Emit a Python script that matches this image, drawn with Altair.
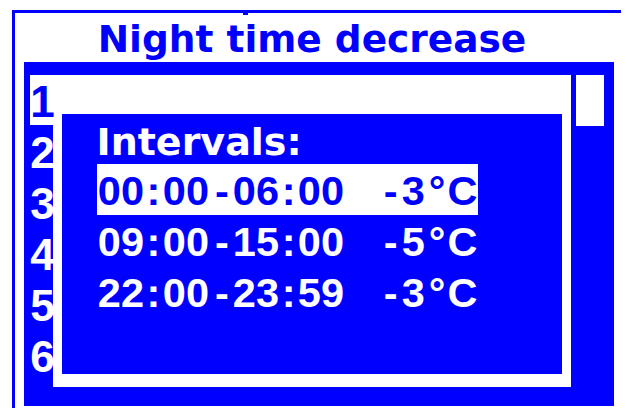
import altair as alt
import pandas as pd

# ---- content (data) ----
TITLE = "Night time decrease"
HEADING = "Intervals:"
START_TIMES = ["00:00", "09:00", "22:00"]
END_TIMES = ["06:00", "15:00", "23:59"]
DECREASES = [-3, -5, -3]
ROW_NUMBERS = ["1", "2", "3", "4", "5", "6"]
SELECTED_INTERVAL = 0

# ---- style / layout ----
BLUE = "#0000ff"
WHITE = "#ffffff"
W, H = 613, 400          # drawing area in px (fits the 629x416 page with 8px margins)
OX, OY = 8, 8            # page margin offset
LCD_FONT = "Liberation Sans"
LCD_SIZE = 41.5

xs = alt.Scale(domain=[OX, OX + W], nice=False, zero=False)
ys = alt.Scale(domain=[OY, OY + H], nice=False, zero=False, reverse=True)

ROW_STEP = 51
INTERVAL_X0 = 101.7
INTERVAL_BASE = 205
NUMBER_BASE = 117
HILITE_TOP = 164

boxes = [
    # outer frame
    dict(x=12, x2=627, y=10, y2=13, c=BLUE),
    dict(x=12, x2=15, y=10, y2=416, c=BLUE),
    dict(x=624, x2=627, y=10, y2=416, c=BLUE),
    dict(x=243, x2=248, y=13, y2=15, c=BLUE),
    # list panel
    dict(x=24, x2=614, y=62, y2=406, c=BLUE),
    dict(x=30, x2=571, y=75, y2=125, c=WHITE),
    dict(x=53, x2=571, y=75, y2=387, c=WHITE),
    dict(x=576, x2=604, y=75, y2=126, c=WHITE),
    # dialog
    dict(x=62, x2=562, y=114, y2=374, c=BLUE),
    dict(x=97, x2=478, y=HILITE_TOP + ROW_STEP * SELECTED_INTERVAL,
         y2=HILITE_TOP + ROW_STEP * SELECTED_INTERVAL + 51, c=WHITE),
]
box_df = pd.DataFrame(boxes)

# character cell advance and ink-centre offset of the LCD font (px)
ADV = {":": 18.4, "-": 23.5, " ": 16.9, "°": 24.0, "C": 24.0}
OFF = {":": 5.2, "-": 8.5, " ": 0.0, "°": 8.0, "C": 9.5}


def char_rows(s, x0, base, color):
    rows = []
    x = x0
    for ch in s:
        if ch != " ":
            rows.append(dict(x=x + OFF.get(ch, 7.5), y=base, t=ch, c=color))
        x += ADV.get(ch, 23.3)
    return rows


chars = []
for i, (s, e, d) in enumerate(zip(START_TIMES, END_TIMES, DECREASES)):
    line = f"{s}-{e}  {d}°C"
    col = BLUE if i == SELECTED_INTERVAL else WHITE
    chars += char_rows(line, INTERVAL_X0, INTERVAL_BASE + ROW_STEP * i, col)
chars_df = pd.DataFrame(chars)

nums_df = pd.DataFrame([
    dict(x=42.5, y=NUMBER_BASE + ROW_STEP * i, t=n, c=BLUE if i == 0 else WHITE)
    for i, n in enumerate(ROW_NUMBERS)
])

title_df = pd.DataFrame([dict(x=312, y=52, t=TITLE)])
head_df = pd.DataFrame([dict(x=96.5, y=155, t=HEADING)])

X = alt.X("x:Q", scale=xs, axis=None)
Y = alt.Y("y:Q", scale=ys, axis=None)

rects = alt.Chart(box_df).mark_rect().encode(
    x=X, x2="x2:Q", y=Y, y2="y2:Q",
    color=alt.Color("c:N", scale=None),
)

title = alt.Chart(title_df).mark_text(
    font="DejaVu Sans", fontWeight="bold", fontSize=37.5,
    align="center", baseline="alphabetic", color=BLUE,
).encode(x=X, y=Y, text="t:N")

heading = alt.Chart(head_df).mark_text(
    font="DejaVu Sans", fontWeight="bold", fontSize=38,
    align="left", baseline="alphabetic", color=WHITE,
).encode(x=X, y=Y, text="t:N")

interval_text = alt.Chart(chars_df).mark_text(
    font=LCD_FONT, fontWeight="bold", fontSize=LCD_SIZE,
    align="center", baseline="alphabetic",
).encode(x=X, y=Y, text="t:N", color=alt.Color("c:N", scale=None))

num_text = alt.Chart(nums_df).mark_text(
    font=LCD_FONT, fontWeight="bold", fontSize=44,
    align="center", baseline="alphabetic",
).encode(x=X, y=Y, text="t:N", color=alt.Color("c:N", scale=None))

chart = alt.layer(rects, title, heading, interval_text, num_text).properties(
    width=W, height=H, padding=0,
    autosize=alt.AutoSizeParams(type="none"),
    background=WHITE,
).configure_view(stroke=None)

chart.save("out.html", embed_options={"renderer": "svg", "actions": False})
